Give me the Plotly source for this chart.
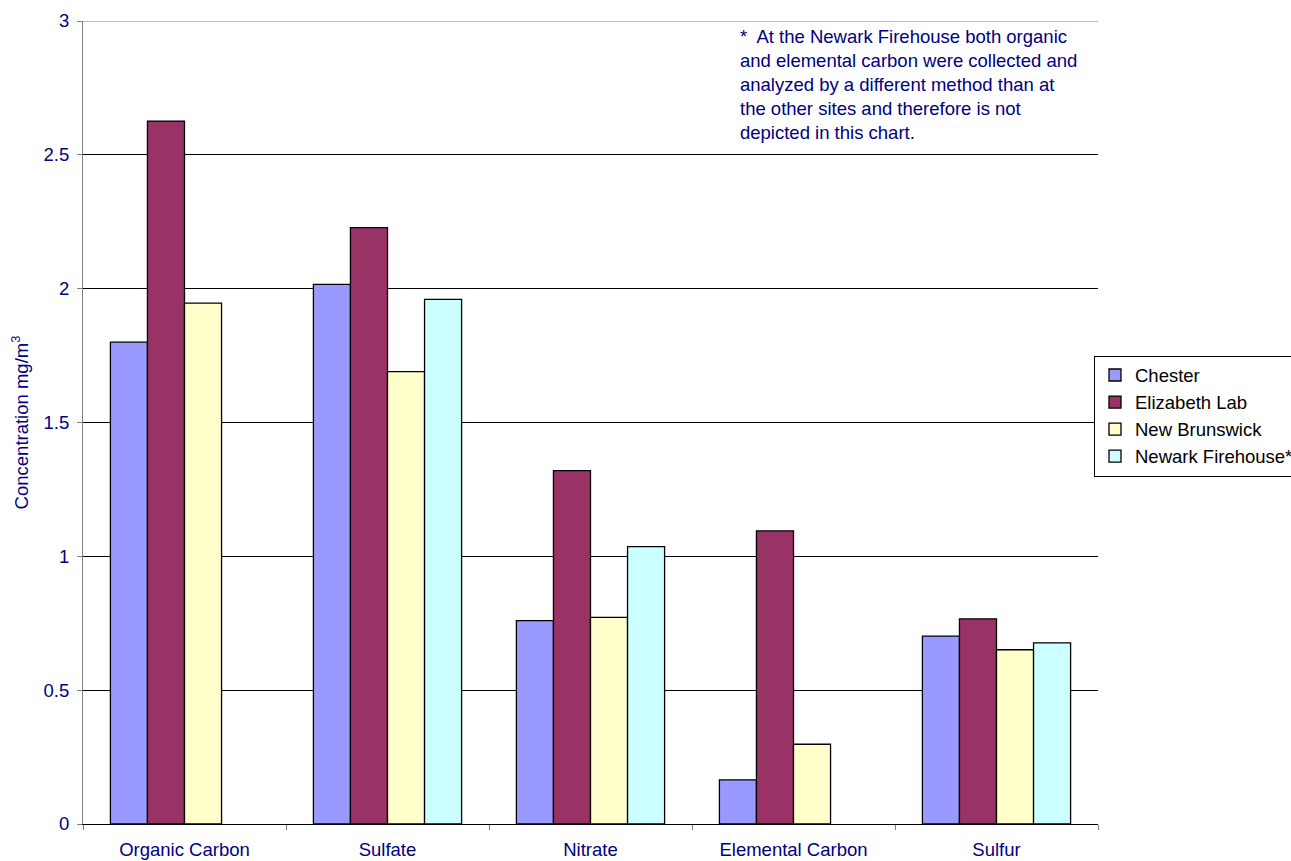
import plotly.graph_objects as go

categories = ["Organic Carbon", "Sulfate", "Nitrate", "Elemental Carbon", "Sulfur"]
chester = [1.80, 2.016, 0.760, 0.165, 0.702]
elizabeth = [2.626, 2.228, 1.320, 1.095, 0.766]
new_brunswick = [1.946, 1.69, 0.772, 0.298, 0.651]
newark = [None, 1.96, 1.036, None, 0.677]

series = [
    ("Chester", chester, "#9999FF"),
    ("Elizabeth Lab", elizabeth, "#993366"),
    ("New Brunswick", new_brunswick, "#FFFFCC"),
    ("Newark Firehouse*", newark, "#CCFFFF"),
]

FONT = "Liberation Sans, Arial, sans-serif"
NAVY = "#000080"
FS = 18.5

fig = go.Figure()
for name, vals, col in series:
    fig.add_trace(go.Bar(
        name=name, x=categories, y=vals,
        marker=dict(color=col, line=dict(color="#000000", width=1.3)),
    ))

fig.update_layout(
    width=1291, height=861,
    margin=dict(l=83, r=193, t=21, b=37, autoexpand=False),
    paper_bgcolor="white", plot_bgcolor="white",
    barmode="group", bargap=0.27, bargroupgap=0,
    font=dict(family=FONT, size=FS, color=NAVY),
    showlegend=True,
    legend=dict(
        xref="container", yref="container",
        x=1094 / 1291, xanchor="left", y=1 - 416 / 861, yanchor="middle",
        bordercolor="#000000", borderwidth=1, bgcolor="white",
        font=dict(family=FONT, size=FS, color="#000000"),
        itemwidth=30, tracegroupgap=0,
    ),
    xaxis=dict(
        type="category", tickson="boundaries", ticks="outside", ticklen=5,
        tickcolor="#808080", showline=True, linecolor="#000000", linewidth=1,
        showgrid=False, tickfont=dict(size=FS, color=NAVY), ticklabelstandoff=9,
        automargin=False,
    ),
    yaxis=dict(
        range=[0, 3], dtick=0.5, ticks="outside", ticklen=5, tickcolor="#808080",
        showline=True, linecolor="#808080", linewidth=1,
        showgrid=True, gridcolor="#000000", gridwidth=1, zeroline=False,
        tickfont=dict(size=FS, color=NAVY), ticklabelstandoff=4,
        title=dict(text="Concentration mg/m<sup>3</sup>", font=dict(size=FS, color=NAVY), standoff=10),
        automargin=False,
    ),
    shapes=[dict(type="line", xref="paper", yref="y", x0=0, x1=1, y0=3, y1=3,
                 line=dict(color="#808080", width=1))],
    annotations=[dict(
        xref="paper", yref="paper", x=0.645, y=0.996, xanchor="left", yanchor="top",
        align="left", showarrow=False,
        text=("*  At the Newark Firehouse both organic<br>"
              "and elemental carbon were collected and<br>"
              "analyzed by a different method than at<br>"
              "the other sites and therefore is not<br>"
              "depicted in this chart."),
        font=dict(family=FONT, size=FS, color=NAVY),
    )],
)

fig.write_html("out.html")
